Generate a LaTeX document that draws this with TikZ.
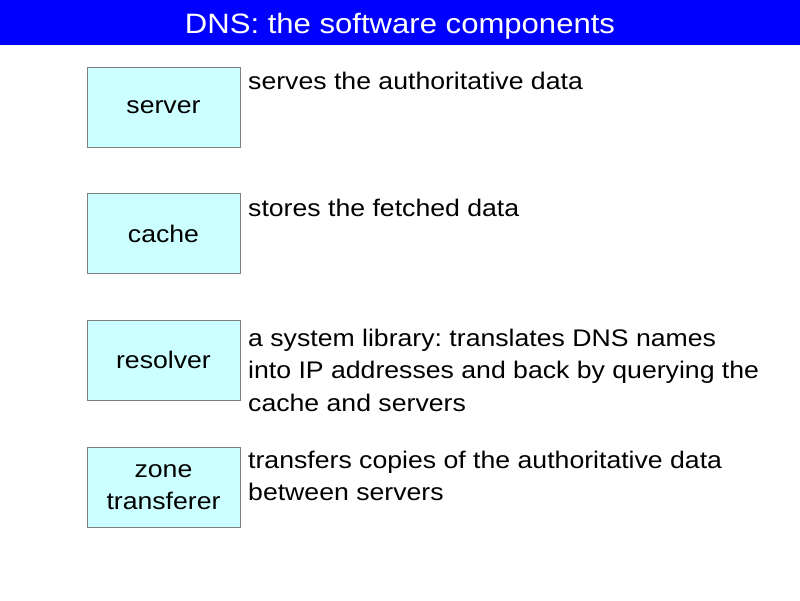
\documentclass[tikz,border=0pt]{standalone}
\usepackage{fontspec}
\setmainfont[FakeStretch=1.11]{Liberation Sans}
\frenchspacing
\definecolor{titleblue}{HTML}{0000FF}
\definecolor{boxfill}{HTML}{CCFFFF}
\definecolor{boxline}{HTML}{7F7F7F}
\tikzset{
  comp/.style={draw=boxline, fill=boxfill, line width=0.9pt, minimum width=153pt, minimum height=80pt, inner sep=0pt, align=center, font=\fontsize{24}{32.5}\selectfont},
  desc/.style={anchor=north west, inner sep=0pt, align=left, font=\fontsize{24}{32.5}\selectfont},
  titletext/.style={text=white, font=\fontsize{28}{34}\selectfont, anchor=base}
}
\begin{document}
\begin{tikzpicture}[x=1pt, y=-1pt]
\useasboundingbox (0,0) rectangle (800,600);
\fill[titleblue] (0,0) rectangle (800,45);
\node[titletext] (title) at (400,33) {DNS: the software components};
\node[comp] (server) at (163.5,107) {server};
\node[comp] (cache) at (163.5,233.5) {cache};
\node[comp] (resolver) at (163.5,360) {resolver};
\node[comp] (zone) at (163.5,487) {zone\\transferer};
\node[desc] (dserver) at (248,89.5-22.75) {\strut serves the authoritative data};
\node[desc] (dcache) at (248,216-22.75) {\strut stores the fetched data};
\node[desc] (dresolver) at (248,346-22.75) {\strut a system library: translates DNS names\\into IP addresses and back by querying the\\cache and servers};
\node[desc] (dzone) at (248,468-22.75) {\strut transfers copies of the authoritative data\\between servers};
\end{tikzpicture}
\end{document}
